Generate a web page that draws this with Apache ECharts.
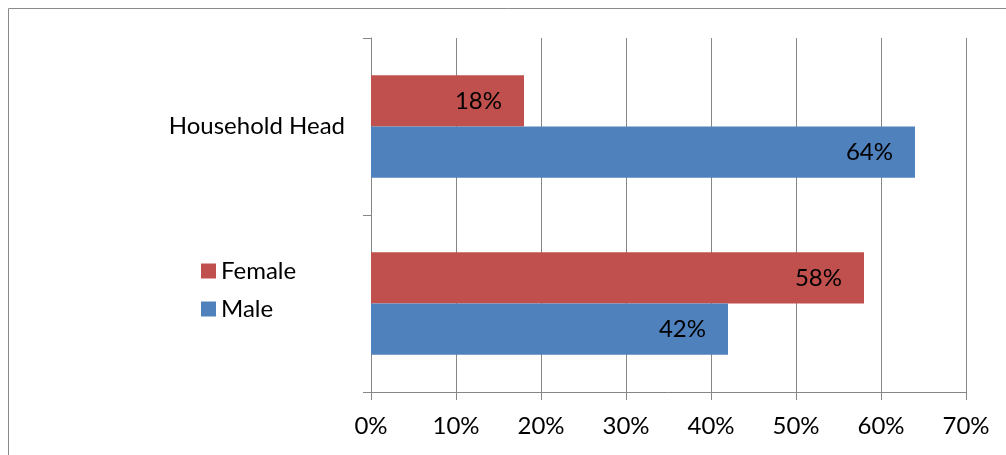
<!DOCTYPE html>
<html>
<head>
<meta charset="utf-8">
<script src="https://cdn.jsdelivr.net/npm/echarts@6/dist/echarts.min.js"></script>
<style>html,body{margin:0;padding:0;background:#fff;}#c{width:1006px;height:455px;}</style>
</head>
<body>
<div id="c"></div>
<script>
const categories = ['', 'Household Head'];
const maleValues = [42, 64];
const femaleValues = [58, 18];
const xTicks = [0, 10, 20, 30, 40, 50, 60, 70];

const FONT = 'Lato';
const FS = 24;
const chart = echarts.init(document.getElementById('c'), null, {renderer: 'canvas'});
const labelStyle = {
  show: true, position: 'insideRight', distance: 22,
  formatter: p => p.value + '%', color: '#000', fontFamily: FONT, fontSize: FS
};
chart.setOption({
  animation: false,
  backgroundColor: '#fff',
  graphic: [{
    type: 'rect', shape: {x: 8.5, y: 8.5, width: 1010, height: 460},
    style: {fill: 'none', stroke: '#8a8a8a', lineWidth: 1}, silent: true, z: -1
  }],
  grid: {left: 371, right: 40, top: 38, bottom: 63, containLabel: false},
  legend: {
    data: ['Female', 'Male'], orient: 'vertical', left: 201, top: 259, padding: 0,
    itemWidth: 15, itemHeight: 15, itemGap: 14, icon: 'rect',
    textStyle: {fontFamily: FONT, fontSize: FS, color: '#000'}
  },
  xAxis: {
    type: 'value', min: xTicks[0], max: xTicks[xTicks.length - 1], interval: 10,
    axisLine: {show: true, lineStyle: {color: '#868686'}},
    axisTick: {show: true, length: 8, lineStyle: {color: '#868686'}},
    splitLine: {show: true, lineStyle: {color: '#868686'}},
    axisLabel: {formatter: v => v + '%', color: '#000', fontFamily: FONT, fontSize: FS, margin: 22}
  },
  yAxis: {
    type: 'category', data: categories,
    axisLine: {show: true, lineStyle: {color: '#868686'}},
    axisTick: {show: true, length: 8, lineStyle: {color: '#868686'}},
    axisLabel: {color: '#000', fontFamily: FONT, fontSize: FS, margin: 26},
    splitLine: {show: false}
  },
  series: [
    {name: 'Female', type: 'bar', data: femaleValues, barGap: '0%', barCategoryGap: '42%',
     itemStyle: {color: '#C0504D'}, label: labelStyle},
    {name: 'Male', type: 'bar', data: maleValues, barGap: '0%', barCategoryGap: '42%',
     itemStyle: {color: '#4F81BD'}, label: labelStyle}
  ]
});
</script>
</body>
</html>
